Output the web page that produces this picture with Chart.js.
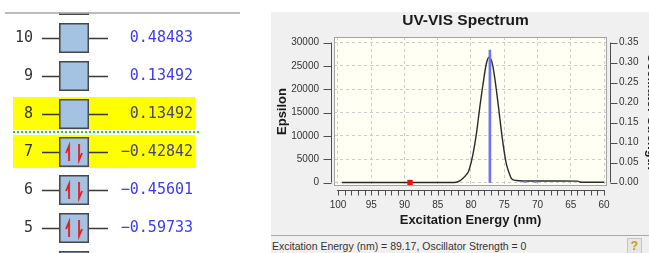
<!DOCTYPE html>
<html>
<head>
<meta charset="utf-8">
<script src="https://cdn.jsdelivr.net/npm/chart.js@4.4.1/dist/chart.umd.min.js"></script>
<style>
  html, body { margin: 0; padding: 0; width: 649px; height: 253px; overflow: hidden; background: #fff; }
  #orbWrap { position: absolute; left: 0; top: 0; width: 250px; height: 253px; }
  #specPanel { position: absolute; left: 271px; top: 12px; width: 378px; height: 241px; background: #f0f0f0; overflow: hidden; }
  #specWrap { position: absolute; left: 0; top: 0; width: 394px; height: 222px; }
  #status { position: absolute; left: 0; top: 223px; width: 378px; height: 18px; border-top: 1px solid #a8a8a8;
            font: 10.5px "Liberation Sans", Arial, sans-serif; color: #333; line-height: 20px; padding-left: 1px; }
  #help { position: absolute; left: 356px; top: 226px; width: 13px; height: 14px; border: 1px solid #c4c4c4; background: #e6e6e6;
          font: bold 12px "Liberation Sans", Arial, sans-serif; color: #c9a000; text-align: center; line-height: 14px; }
</style>
</head>
<body>
<div id="orbWrap"><canvas id="orbitals"></canvas></div>
<div id="specPanel">
  <div id="specWrap"><canvas id="spectrum"></canvas></div>
  <div id="status"></div>
  <div id="help">?</div>
</div>
<script>
// orbital list (left panel)
const orbitalNumbers = [11, 10, 9, 8, 7, 6, 5, 4];
const orbitalOccupancy = [0, 0, 0, 0, 2, 2, 2, 2];
const orbitalEnergies = [null, 0.48483, 0.13492, 0.13492, -0.42842, -0.45601, -0.59733, null];
const highlightedOrbitals = [8, 7];
const lumo = 8;
const homo = 7;

// UV-VIS spectrum (right panel)
const chartTitle = 'UV-VIS Spectrum';
const curveNm = [99.4, 95, 90, 85, 83, 82.2, 81.7, 81.2, 80.7, 80.4, 80.2, 79.7, 79.2, 78.7, 78.2, 77.7, 77.3, 77.0,
                 76.7, 76.2, 75.7, 75.2, 74.7, 74.2, 73.9, 73.2, 72, 68, 64, 63.6, 63.2, 60];
const curveEps = [0, 0, 0, 0, 10, 60, 350, 900, 1700, 2300, 3100, 6100, 10300, 15900, 21000, 25400, 26850, 26400,
                  24900, 20000, 14200, 8500, 4100, 1800, 800, 430, 330, 310, 300, 100, 50, 50];
const stickNm = [77.16, 71.9, 70.3];
const stickStrength = [0.331, 0.003, 0.003];
const selectedNm = 89.17;
const selectedStrength = 0;
const xTickLabels = [100, 95, 90, 85, 80, 75, 70, 65, 60];
const epsTicks = [0, 5000, 10000, 15000, 20000, 25000, 30000];
const oscTicks = [0, 0.05, 0.10, 0.15, 0.20, 0.25, 0.30, 0.35];

Chart.defaults.font.family = '"Liberation Sans", Arial, sans-serif';
Chart.defaults.animation = false;

// fixes a scale's size and drops the label overflow padding
const fixSize = (w, h) => s => {
  if (w != null) s.width = w;
  if (h != null) s.height = h;
  s.paddingTop = s.paddingBottom = s.paddingLeft = s.paddingRight = 0;
};

// ---------- orbitals ----------
function makeBox(occupied) {
  const c = document.createElement('canvas');
  c.width = 30; c.height = 30;
  const g = c.getContext('2d');
  g.fillStyle = '#a4c2e2';
  g.fillRect(1, 1, 28, 28);
  g.strokeStyle = '#474747';
  g.lineWidth = 1.5;
  g.strokeRect(0.75, 0.75, 28.5, 28.5);
  if (occupied) {
    g.strokeStyle = '#e41c1c';
    g.lineWidth = 1.8;
    g.beginPath();
    g.moveTo(10, 24); g.lineTo(10, 9); g.lineTo(7, 16);
    g.moveTo(20, 7); g.lineTo(20, 23); g.lineTo(23, 16);
    g.stroke();
  }
  return c;
}
const emptyBox = makeBox(false);
const fullBox = makeBox(true);
const shownOrbitals = orbitalNumbers.filter((n, i) => orbitalEnergies[i] !== null);
const energyOf = n => orbitalEnergies[orbitalNumbers.indexOf(n)];
const formatEnergy = v => v.toFixed(5).replace('-', '\u2212');

const orbitalDecor = {
  id: 'orbitalDecor',
  beforeDraw(chart) {
    const {ctx} = chart;
    const y = chart.scales.y;
    ctx.save();
    ctx.fillStyle = '#ffff00';
    highlightedOrbitals.forEach(n => {
      const p = y.getPixelForValue(n);
      ctx.fillRect(13, p - 17, 182, 33);
    });
    const gap = (y.getPixelForValue(lumo) + y.getPixelForValue(homo)) / 2 - 1;
    ctx.strokeStyle = '#2ecc2e';
    ctx.lineWidth = 2;
    ctx.setLineDash([2, 2]);
    ctx.beginPath();
    ctx.moveTo(13, gap); ctx.lineTo(200, gap);
    ctx.stroke();
    ctx.restore();
  },
  beforeDatasetsDraw(chart) {
    const {ctx, chartArea: a} = chart;
    const y = chart.scales.y;
    ctx.save();
    ctx.strokeStyle = '#3a3a3a';
    ctx.lineWidth = 1.3;
    ctx.beginPath();
    orbitalNumbers.forEach(n => {
      const p = Math.round(y.getPixelForValue(n)) + 0.5;
      ctx.moveTo(a.left, p); ctx.lineTo(a.right, p);
    });
    ctx.stroke();
    ctx.restore();
  },
  afterDraw(chart) {
    const {ctx} = chart;
    ctx.save();
    ctx.fillStyle = '#fff';
    ctx.fillRect(0, 0, chart.width, 12.5);
    ctx.strokeStyle = '#a5a5a5';
    ctx.lineWidth = 1.5;
    ctx.beginPath();
    ctx.moveTo(5, 13); ctx.lineTo(240, 13);
    ctx.stroke();
    ctx.restore();
  }
};

const orbTickFont = {family: '"DejaVu Sans Mono", monospace', size: 15};

new Chart(document.getElementById('orbitals'), {
  type: 'scatter',
  data: {
    datasets: [{
      data: orbitalNumbers.map(n => ({x: 0.485, y: n})),
      pointStyle: orbitalOccupancy.map(o => o ? fullBox : emptyBox),
      pointRadius: 20
    }]
  },
  options: {
    responsive: true,
    maintainAspectRatio: false,
    events: [],
    layout: {padding: {left: 0, top: 0, bottom: 0, right: 57}, autoPadding: false},
    plugins: {legend: {display: false}, tooltip: {enabled: false}},
    scales: {
      x: {display: false, min: 0, max: 1},
      y: {
        position: 'left', min: 4.342, max: 11,
        grid: {display: false, drawTicks: false}, border: {display: false},
        afterBuildTicks: s => { s.ticks = shownOrbitals.map(v => ({value: v})); },
        afterFit: fixSize(42, null),
        ticks: {padding: 9, color: '#333', font: orbTickFont, callback: v => String(v)}
      },
      yE: {
        position: 'right', min: 4.342, max: 11,
        grid: {display: false, drawTicks: false}, border: {display: false},
        afterBuildTicks: s => { s.ticks = shownOrbitals.map(v => ({value: v})); },
        afterFit: fixSize(85, null),
        ticks: {
          padding: 13, crossAlign: 'far', font: orbTickFont,
          color: c => highlightedOrbitals.includes(c.tick && c.tick.value) ? '#45457a' : '#3b3bf2',
          callback: v => formatEnergy(energyOf(v))
        }
      }
    }
  },
  plugins: [orbitalDecor]
});

// ---------- spectrum ----------
const xMinorTicks = [];
for (let v = 60; v <= 100; v++) xMinorTicks.push(v);

const specDecor = {
  id: 'specDecor',
  beforeDraw(chart) {
    const {ctx, chartArea: a} = chart;
    ctx.save();
    ctx.fillStyle = '#fffff3';
    ctx.fillRect(a.left, a.top, a.right - a.left, a.bottom - a.top);
    ctx.restore();
  },
  afterDraw(chart) {
    const {ctx, chartArea: a, scales} = chart;
    ctx.save();
    ctx.strokeStyle = '#a2a2a2';
    ctx.lineWidth = 1;
    ctx.strokeRect(a.left + 0.5, a.top + 0.5, a.right - a.left - 1, a.bottom - a.top - 1);

    ctx.strokeStyle = '#4e4e4e';
    ctx.beginPath();
    const ys = scales.y, lx = a.left - 2.5;
    ctx.moveTo(lx, ys.getPixelForValue(epsTicks[epsTicks.length - 1]));
    ctx.lineTo(lx, ys.getPixelForValue(epsTicks[0]));
    epsTicks.forEach(v => {
      const p = Math.round(ys.getPixelForValue(v)) + 0.5;
      ctx.moveTo(lx, p); ctx.lineTo(lx - 8, p);
    });
    const y2 = scales.y2, rx = a.right + 3.5;
    ctx.moveTo(rx, y2.getPixelForValue(oscTicks[oscTicks.length - 1]));
    ctx.lineTo(rx, y2.getPixelForValue(oscTicks[0]));
    oscTicks.forEach(v => {
      const p = Math.round(y2.getPixelForValue(v)) + 0.5;
      ctx.moveTo(rx, p); ctx.lineTo(rx + 7, p);
    });
    const xs = scales.x, by = a.bottom + 4.5;
    ctx.moveTo(xs.getPixelForValue(xMinorTicks[xMinorTicks.length - 1]) - 1, by);
    ctx.lineTo(xs.getPixelForValue(xMinorTicks[0]) + 1, by);
    xMinorTicks.forEach(v => {
      const p = Math.round(xs.getPixelForValue(v)) + 0.5;
      ctx.moveTo(p, by); ctx.lineTo(p, by + 5);
    });
    ctx.stroke();

    ctx.fillStyle = '#1a1a1a';
    ctx.font = 'bold 15.5px "Liberation Sans", Arial, sans-serif';
    ctx.textAlign = 'center';
    ctx.textBaseline = 'middle';
    ctx.fillText(chartTitle, 194.5, 8.5);
    ctx.restore();
  }
};

const tickFont = {size: 10};
const axisTitleFont = {size: 13, weight: 'bold'};

new Chart(document.getElementById('spectrum'), {
  type: 'line',
  data: {
    datasets: [
      {
        type: 'scatter',
        data: [{x: selectedNm, y: 0}],
        pointStyle: 'rect',
        pointRadius: 3.8,
        backgroundColor: '#ee1111',
        borderWidth: 0
      },
      {
        type: 'bar',
        yAxisID: 'y2',
        data: stickNm.map((x, i) => ({x, y: stickStrength[i]})),
        backgroundColor: '#7272f4',
        borderWidth: 0,
        barThickness: 2
      },
      {
        type: 'line',
        data: curveNm.map((x, i) => ({x, y: curveEps[i]})),
        borderColor: '#2a2a2a',
        borderWidth: 1.4,
        pointRadius: 0,
        cubicInterpolationMode: 'monotone',
        fill: false
      }
    ]
  },
  options: {
    responsive: true,
    maintainAspectRatio: false,
    events: [],
    layout: {padding: {top: 25, left: 0, right: 0, bottom: 0}, autoPadding: false},
    plugins: {legend: {display: false}, tooltip: {enabled: false}},
    scales: {
      x: {
        type: 'linear', reverse: true, min: 59.55, max: 100.6, offset: false,
        afterBuildTicks: s => { s.ticks = xMinorTicks.map(v => ({value: v})); },
        afterFit: fixSize(null, 48),
        grid: {
          offset: false, drawTicks: false,
          color: c => xTickLabels.includes(c.tick && c.tick.value) ? '#cdcdcd' : 'rgba(0,0,0,0)'
        },
        border: {display: false, dash: [3, 3]},
        ticks: {
          autoSkip: false, maxRotation: 0, padding: 13, color: '#333', font: tickFont,
          callback: v => xTickLabels.includes(v) ? String(v) : ''
        },
        title: {display: true, text: 'Excitation Energy (nm)', color: '#1a1a1a', font: axisTitleFont, padding: {top: 0, bottom: 6}}
      },
      y: {
        position: 'left', min: -750, max: 31180,
        afterBuildTicks: s => { s.ticks = epsTicks.map(v => ({value: v})); },
        afterFit: fixSize(63, null),
        grid: {drawTicks: false, color: '#cdcdcd'},
        border: {display: false, dash: [3, 3]},
        ticks: {padding: 15, color: '#333', font: tickFont, callback: v => String(v)},
        title: {display: true, text: 'Epsilon', color: '#1a1a1a', font: axisTitleFont, padding: {top: 4, bottom: 0}}
      },
      y2: {
        position: 'right', min: -0.00875, max: 0.36377,
        afterBuildTicks: s => { s.ticks = oscTicks.map(v => ({value: v})); },
        afterFit: fixSize(58, null),
        grid: {display: false, drawTicks: false},
        border: {display: false},
        ticks: {padding: 12, color: '#333', font: tickFont, callback: v => v.toFixed(2)},
        title: {display: true, text: 'Oscillator Strength', color: '#1a1a1a', font: axisTitleFont, padding: {top: 6, bottom: 0}}
      }
    }
  },
  plugins: [specDecor]
});

document.getElementById('status').textContent =
  'Excitation Energy (nm) = ' + selectedNm + ', Oscillator Strength = ' + selectedStrength;
</script>
</body>
</html>
